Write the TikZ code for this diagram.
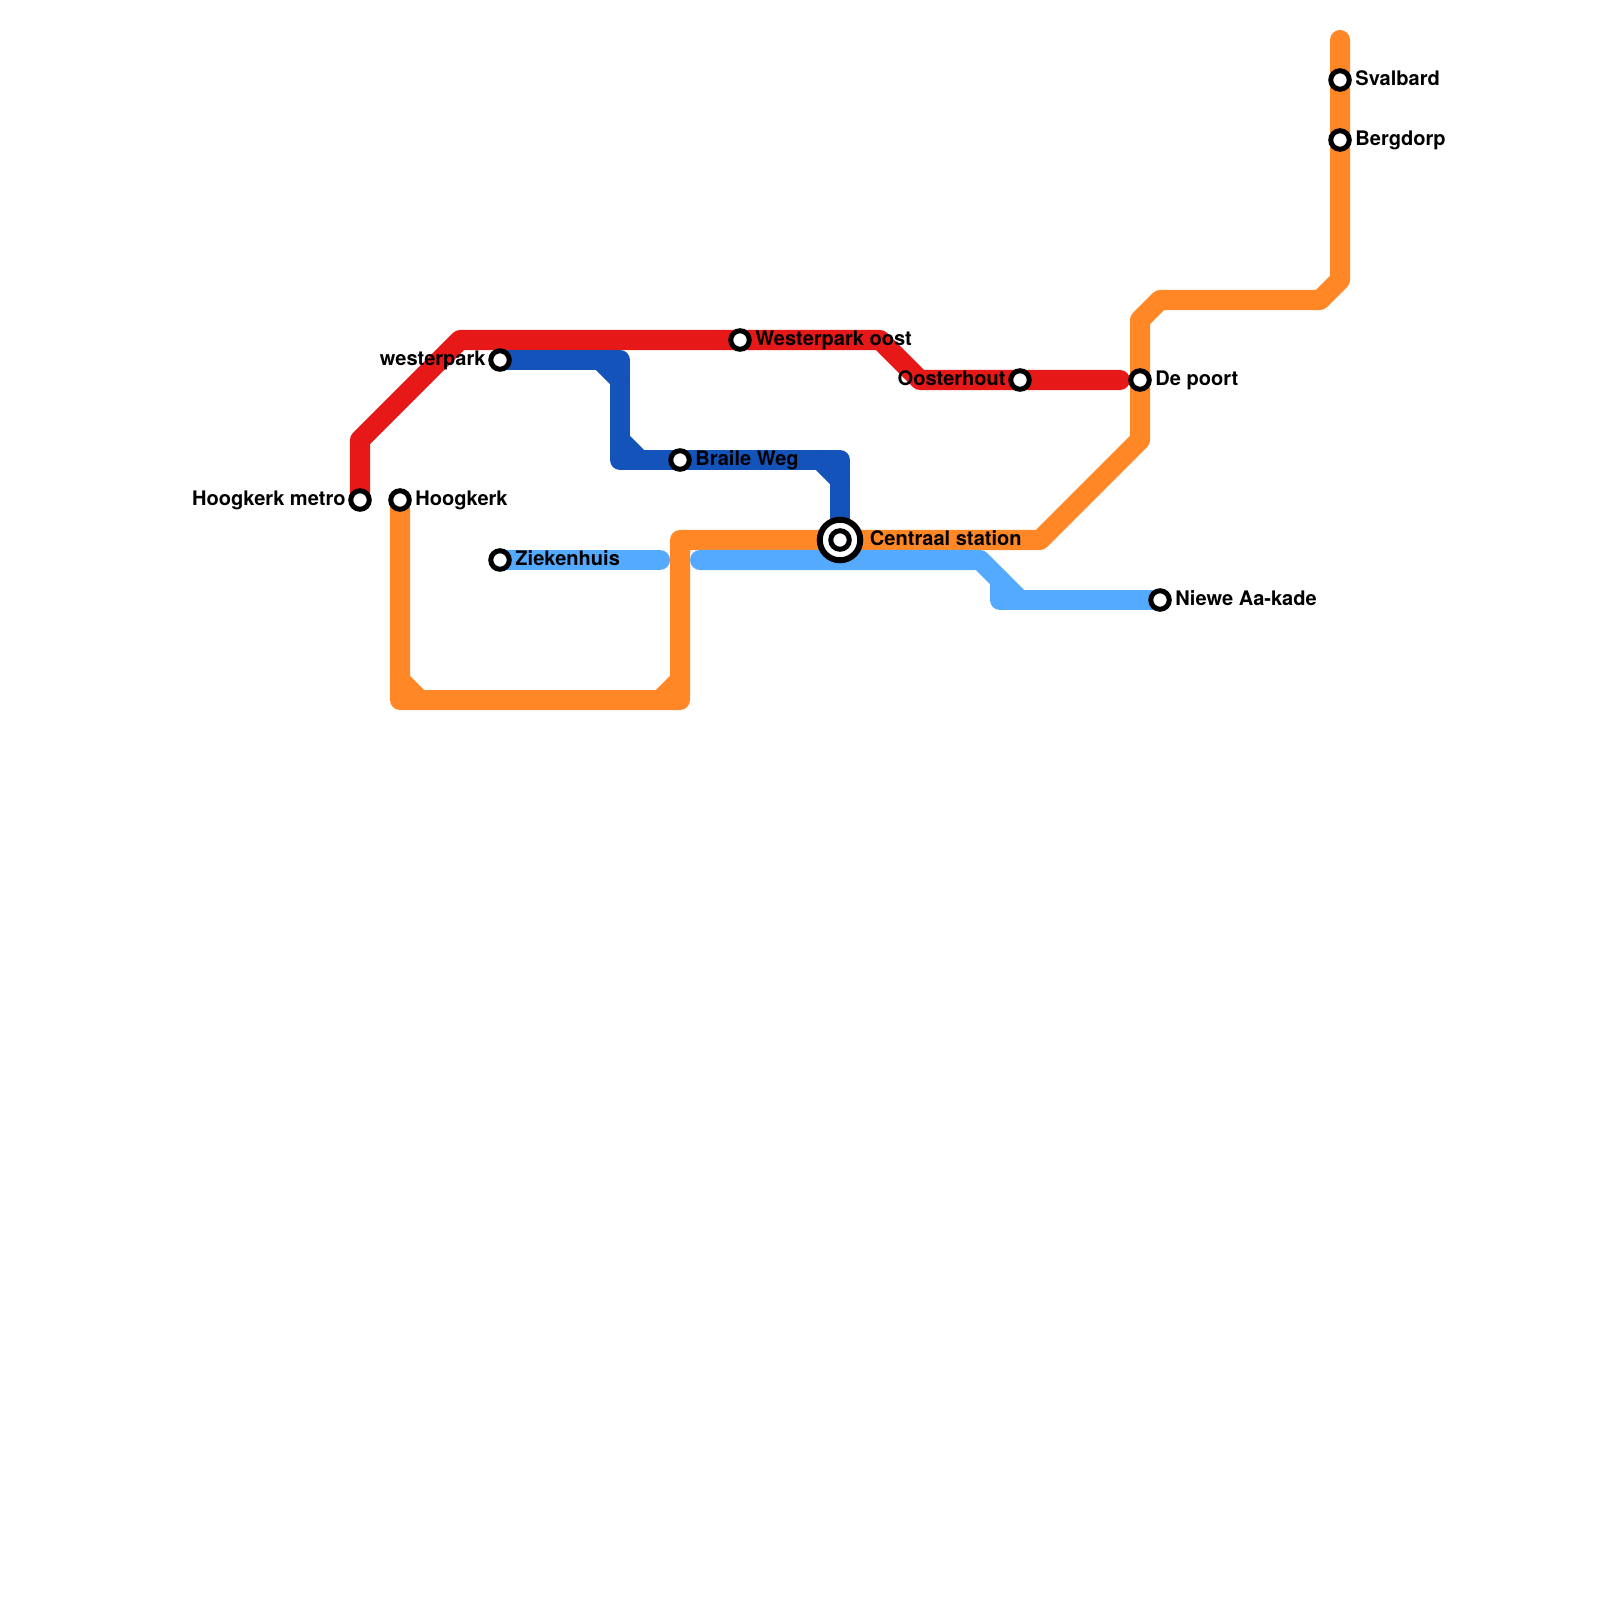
\documentclass[tikz,border=0pt]{standalone}
\usepackage{fontspec}
\setmainfont{TeX Gyre Heros}
\usepackage{xcolor}
\usetikzlibrary{positioning,backgrounds}
\definecolor{redline}{HTML}{E71918}
\definecolor{blueline}{HTML}{1453BA}
\definecolor{orangeline}{HTML}{FF8726}
\definecolor{skyline}{HTML}{54AAFF}

\begin{document}
\begin{tikzpicture}[
  x=0.01cm, y=-0.01cm,
  font=\fontsize{5.7pt}{6pt}\selectfont\bfseries,
  stop/.style={draw=black, fill=white, circle, line width=0.05cm,
               minimum size=0.185cm, inner sep=0pt},
  hub/.style={draw=black, fill=white, circle, line width=0.06cm,
              minimum size=0.405cm, inner sep=0pt},
  lbl/.style={inner sep=0pt, text height=0.15cm, text depth=0.05cm},
  metro/.style={line width=0.2cm, line cap=round, line join=round}
]
\useasboundingbox (0,0) rectangle (1600,1600);

% Stations
\node[stop] (hkmetro) at (360,500)  {};
\node[stop] (hk)      at (400,500)  {};
\node[stop] (wp)      at (500,360)  {};
\node[stop] (zk)      at (500,560)  {};
\node[stop] (bw)      at (680,460)  {};
\node[stop] (wpo)     at (740,340)  {};
\node[stop] (oh)      at (1020,380) {};
\node[stop] (dp)      at (1140,380) {};
\node[stop] (naa)     at (1160,600) {};
\node[stop] (sv)      at (1340,80)  {};
\node[stop] (bd)      at (1340,140) {};
\node[hub]  (cs)      at (840,540)  {};
\node[stop] (csin)    at (840,540)  {};

% Labels
\node[lbl, left=0.02cm of hkmetro] (hkmetrol) {Hoogkerk metro};
\node[lbl, right=0.03cm of hk]     (hkl)  {Hoogkerk};
\node[lbl, left=0.02cm of wp]      (wpl)  {westerpark};
\node[lbl, right=0.03cm of zk]     (zkl)  {Ziekenhuis};
\node[lbl, right=0.03cm of bw]     (bwl)  {Braile Weg};
\node[lbl, right=0.03cm of wpo]    (wpol) {Westerpark oost};
\node[lbl, left=0.02cm of oh]      (ohl)  {Oosterhout};
\node[lbl, right=0.03cm of dp]     (dpl)  {De poort};
\node[lbl, right=0.03cm of naa]    (naal) {Niewe Aa-kade};
\node[lbl, right=0.03cm of sv]     (svl)  {Svalbard};
\node[lbl, right=0.03cm of bd]     (bdl)  {Bergdorp};
\node[lbl, right=0.06cm of cs]     (csl)  {Centraal station};

% Bends
\coordinate (r1) at (360,440);
\coordinate (r2) at (460,340);
\coordinate (r3) at (880,340);
\coordinate (r4) at (920,380);
\coordinate (r5) at (1120,380);
\coordinate (b1) at (620,360);
\coordinate (b1a) at (600,360);
\coordinate (b1b) at (620,380);
\coordinate (b2) at (620,460);
\coordinate (b2a) at (620,440);
\coordinate (b2b) at (640,460);
\coordinate (b3) at (840,460);
\coordinate (b3a) at (820,460);
\coordinate (b3b) at (840,480);
\coordinate (o1) at (400,700);
\coordinate (o1a) at (400,680);
\coordinate (o1b) at (420,700);
\coordinate (o2) at (680,700);
\coordinate (o2a) at (660,700);
\coordinate (o2b) at (680,680);
\coordinate (o3) at (680,540);
\coordinate (o4) at (1040,540);
\coordinate (o5) at (1140,440);
\coordinate (o6) at (1140,320);
\coordinate (o7) at (1160,300);
\coordinate (o8) at (1320,300);
\coordinate (o9) at (1340,280);
\coordinate (o10) at (1340,40);
\coordinate (s1) at (660,560);
\coordinate (s2) at (700,560);
\coordinate (s3) at (980,560);
\coordinate (s4) at (1000,580);
\coordinate (s5) at (1000,600);
\coordinate (s6) at (1020,600);

% Lines
\begin{scope}[on background layer]
\draw[metro, draw=redline] (hkmetro.center) -- (r1) -- (r2) -- (r3) -- (r4) -- (r5);
\draw[metro, draw=blueline] (wp.center) -- (b1) -- (b2) -- (b3) -- (cs.center);
\draw[metro, draw=blueline] (b1a) -- (b1b);
\draw[metro, draw=blueline] (b2a) -- (b2b);
\draw[metro, draw=blueline] (b3a) -- (b3b);
\draw[metro, draw=orangeline] (hk.center) -- (o1) -- (o2) -- (o3) -- (o4) -- (o5) -- (o6) -- (o7) -- (o8) -- (o9) -- (o10);
\draw[metro, draw=orangeline] (o1a) -- (o1b);
\draw[metro, draw=orangeline] (o2a) -- (o2b);
\draw[metro, draw=skyline] (zk.center) -- (s1);
\draw[metro, draw=skyline] (s2) -- (s3) -- (s6);
\draw[metro, draw=skyline] (s4) -- (s5) -- (naa.center);
\end{scope}
\end{tikzpicture}
\end{document}
